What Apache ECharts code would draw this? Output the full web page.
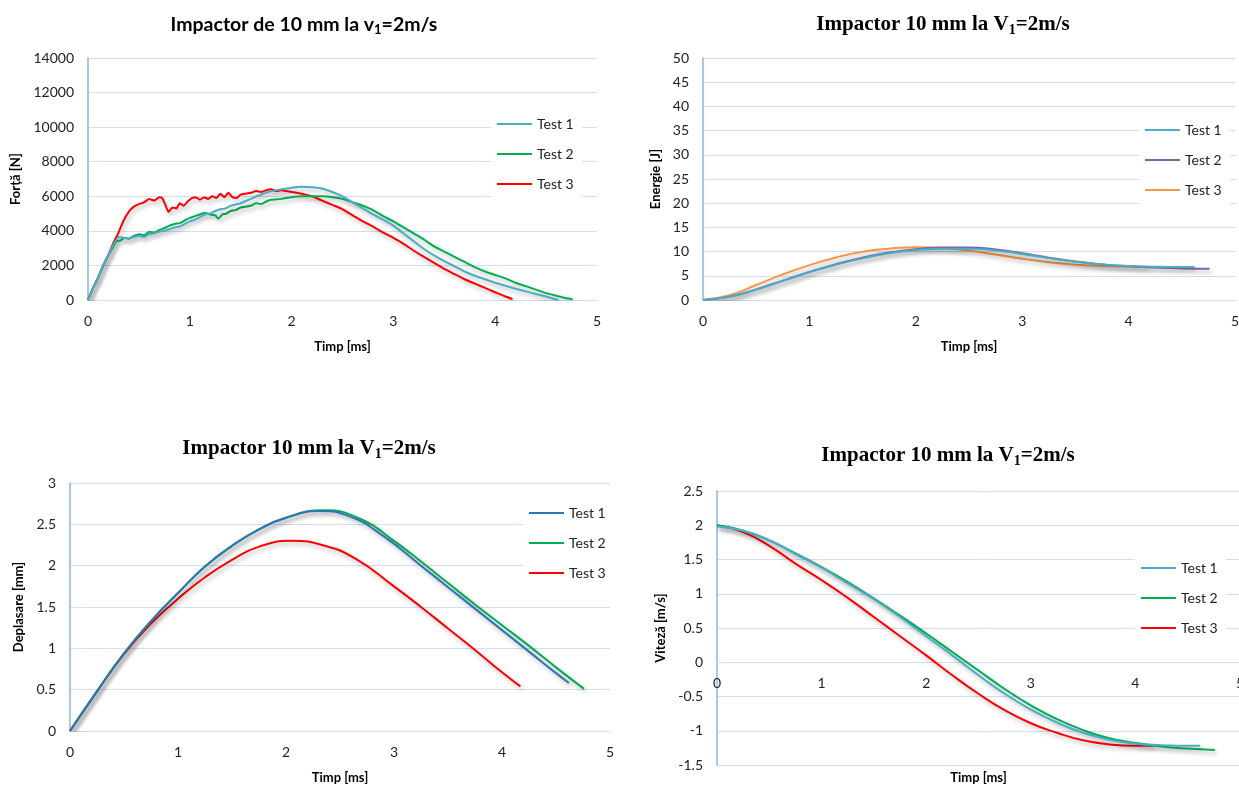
<!DOCTYPE html>
<html>
<head>
<meta charset="utf-8">
<script src="https://cdn.jsdelivr.net/npm/echarts@6/dist/echarts.min.js"></script>
<style>
html,body{margin:0;padding:0;background:#fff;overflow:hidden;}
.c{position:absolute;}
</style>
</head>
<body>
<div id="c1" class="c" style="left:0;top:0;width:620px;height:393px"></div>
<div id="c2" class="c" style="left:620px;top:0;width:619px;height:393px"></div>
<div id="c3" class="c" style="left:0;top:393px;width:620px;height:393px"></div>
<div id="c4" class="c" style="left:620px;top:393px;width:619px;height:393px"></div>
<script>
// ---------- DATA ----------
const seriesNames = ['Test 1', 'Test 2', 'Test 3'];
const xTicks = [0, 1, 2, 3, 4, 5];

// Force [N] vs time [ms]
const forceT1 = [0,0.05,0.1,0.15,0.2,0.25,0.3,0.35,0.4,0.45,0.5,0.55,0.6,0.65,0.7,0.75,0.8,0.85,0.9,0.95,1.0,1.05,1.1,1.15,1.2,1.25,1.3,1.35,1.4,1.5,1.6,1.7,1.8,1.9,2.0,2.1,2.2,2.3,2.4,2.5,2.6,2.7,2.8,2.9,3.0,3.1,3.2,3.3,3.4,3.5,3.6,3.7,3.8,3.9,4.0,4.1,4.2,4.3,4.4,4.5,4.62];
const forceV1 = [0,700,1300,2000,2600,3200,3650,3600,3550,3650,3700,3650,3800,3850,3950,4000,4100,4200,4250,4400,4550,4650,4800,4950,5000,5150,5250,5300,5450,5600,5850,6100,6300,6400,6500,6550,6520,6450,6250,6000,5650,5300,4950,4650,4300,3850,3400,2950,2580,2250,1950,1650,1400,1200,1000,820,650,500,350,200,0];
const forceT2 = [0,0.05,0.1,0.15,0.2,0.25,0.28,0.32,0.36,0.4,0.45,0.5,0.55,0.6,0.65,0.7,0.75,0.8,0.85,0.9,0.95,1.0,1.05,1.1,1.15,1.2,1.25,1.28,1.32,1.36,1.4,1.45,1.5,1.55,1.6,1.65,1.7,1.75,1.8,1.9,2.0,2.1,2.2,2.3,2.4,2.5,2.6,2.7,2.8,2.9,3.0,3.1,3.2,3.3,3.4,3.5,3.6,3.7,3.8,3.9,4.0,4.1,4.2,4.3,4.4,4.5,4.6,4.7,4.76];
const forceV2 = [0,700,1300,2000,2600,3100,3400,3450,3600,3550,3700,3800,3750,3950,3900,4050,4150,4300,4400,4450,4600,4750,4850,4950,5050,4950,4900,4700,4950,5000,5150,5200,5350,5400,5450,5600,5550,5700,5800,5850,5950,6000,6000,6000,5950,5850,5650,5450,5200,4850,4550,4200,3850,3500,3100,2800,2500,2200,1900,1650,1450,1250,1000,800,600,400,250,100,50];
const forceT3 = [0,0.05,0.1,0.15,0.2,0.25,0.3,0.35,0.4,0.45,0.5,0.55,0.6,0.65,0.7,0.73,0.76,0.79,0.83,0.87,0.9,0.94,0.98,1.02,1.06,1.1,1.14,1.18,1.22,1.26,1.3,1.34,1.38,1.42,1.46,1.5,1.55,1.6,1.65,1.7,1.75,1.8,1.85,1.9,1.95,2.0,2.1,2.2,2.3,2.4,2.5,2.6,2.7,2.8,2.9,3.0,3.1,3.2,3.3,3.4,3.5,3.6,3.7,3.8,3.9,4.0,4.1,4.17];
const forceV3 = [0,700,1300,2000,2600,3300,3900,4600,5100,5400,5550,5650,5850,5750,5950,5900,5500,5100,5350,5300,5600,5450,5700,5900,5950,5800,5950,5850,6000,5900,6150,5950,6200,5950,5900,6100,6150,6200,6300,6250,6350,6400,6300,6350,6300,6250,6150,6000,5750,5500,5250,4900,4550,4250,3900,3600,3250,2850,2500,2150,1800,1500,1200,950,700,450,200,50];

// Time grids for the energy and velocity curves
const timeA = [0,0.25,0.5,0.75,1,1.25,1.5,1.75,2,2.25,2.5,2.75,3,3.25,3.5,3.75,4,4.25,4.5,4.62];
const timeB = [0,0.25,0.5,0.75,1,1.25,1.5,1.75,2,2.25,2.5,2.75,3,3.25,3.5,3.75,4,4.25,4.5,4.76];
const timeC = [0,0.25,0.5,0.75,1,1.25,1.5,1.75,2,2.25,2.5,2.75,3,3.25,3.5,3.75,4,4.17];

// Energy [J]
const energy1 = [0,0.65,2.15,3.95,5.75,7.3,8.6,9.65,10.3,10.6,10.6,10.25,9.5,8.65,7.9,7.35,7.0,6.85,6.8,6.8];
const energy2 = [0,0.7,2.2,4.0,5.8,7.4,8.75,9.8,10.5,10.85,10.85,10.45,9.65,8.75,7.95,7.35,6.95,6.7,6.52,6.45];
const energy3 = [0,1.0,3.1,5.3,7.2,8.8,9.95,10.6,10.9,10.75,10.2,9.4,8.5,7.8,7.3,7.0,6.9,6.85];

// Displacement [mm] (time points include each curve's apex)
const dispT1 = [0,0.25,0.5,0.75,1,1.25,1.5,1.75,2.0,2.3,2.6,2.9,3.25,3.5,3.75,4,4.25,4.5,4.62];
const disp1  = [0,0.48,0.94,1.33,1.67,1.99,2.24,2.44,2.58,2.66,2.59,2.36,2.0,1.74,1.48,1.22,0.96,0.70,0.58];
const dispT2 = [0,0.25,0.5,0.75,1,1.25,1.5,1.75,2.0,2.35,2.7,3.0,3.25,3.5,3.75,4,4.25,4.5,4.76];
const disp2  = [0,0.48,0.94,1.33,1.67,1.99,2.24,2.44,2.58,2.67,2.56,2.30,2.05,1.79,1.53,1.28,1.03,0.77,0.51];
const dispT3 = [0,0.25,0.5,0.75,1,1.25,1.5,1.75,2.05,2.35,2.65,3.0,3.25,3.5,3.75,4.0,4.17];
const disp3  = [0,0.48,0.93,1.30,1.60,1.86,2.07,2.23,2.30,2.245,2.08,1.75,1.50,1.24,0.98,0.71,0.54];

// Velocity [m/s]
const vel1 = [1.98,1.92,1.78,1.58,1.38,1.15,0.92,0.66,0.38,0.1,-0.19,-0.46,-0.69,-0.88,-1.03,-1.13,-1.19,-1.21,-1.22,-1.22];
const vel2 = [2.0,1.92,1.78,1.59,1.39,1.17,0.93,0.68,0.42,0.15,-0.12,-0.39,-0.63,-0.83,-0.99,-1.11,-1.18,-1.23,-1.26,-1.28];
const vel3 = [2.0,1.9,1.7,1.44,1.2,0.94,0.66,0.38,0.1,-0.19,-0.46,-0.7,-0.89,-1.03,-1.14,-1.2,-1.22,-1.22];

// ---------- RENDER ----------
const SANS = 'Lato, "Open Sans", sans-serif';
const SERIF = '"Liberation Serif", "Times New Roman", serif';
const GRID_C = '#D0DFF3';
const AXIS_C = '#8EB4E3';

function pairs(t, v) { return t.map((x, i) => [x, v[i]]); }

function titleGraphic(cx, cy, main1, sub, main2, fam, size) {
  const base = { fontFamily: fam, fontWeight: 'bold', fontSize: size, lineHeight: size + 4, fill: '#000', color: '#000' };
  const subS = { fontFamily: fam, fontWeight: 'bold', fontSize: Math.round(size * 0.65), lineHeight: size + 4, verticalAlign: 'bottom', fill: '#000', color: '#000' };
  return {
    type: 'text', x: cx, y: cy, silent: true,
    style: {
      text: '{a|' + main1 + '}{s|' + sub + '}{a|' + main2 + '}',
      rich: { a: base, s: subS },
      align: 'center', verticalAlign: 'middle',
      textAlign: 'center', textVerticalAlign: 'middle'
    }
  };
}

function build(id, o) {
  const chart = echarts.init(document.getElementById(id), null, { renderer: 'canvas' });
  const series = o.series.map((s, i) => ({
    name: seriesNames[i],
    type: 'line',
    data: s.data,
    showSymbol: false,
    smooth: o.smooth,
    z: 3 - i + 2,
    lineStyle: {
      color: s.color, width: 2,
      shadowColor: 'rgba(0,0,0,0.28)', shadowBlur: 4, shadowOffsetX: 2, shadowOffsetY: 3
    },
    itemStyle: { color: s.color }
  }));
  chart.setOption({
    animation: false,
    graphic: [o.title],
    grid: { left: o.grid[0], top: o.grid[1], width: o.grid[2], height: o.grid[3], containLabel: false, outerBoundsMode: 'none' },
    legend: {
      orient: 'vertical', left: o.legend[0], top: o.legend[1],
      icon: 'rect', itemWidth: 35, itemHeight: 2, itemGap: 14,
      backgroundColor: '#fff', padding: [8, 8, 8, 6],
      textStyle: { fontFamily: SANS, fontSize: 14, color: '#222', lineHeight: 16 },
      data: seriesNames
    },
    xAxis: {
      type: 'value', min: xTicks[0], max: xTicks[xTicks.length - 1], interval: 1,
      position: 'bottom', offset: o.xOffset || 0,
      name: 'Timp [ms]', nameLocation: 'middle', nameGap: o.xGap,
      nameTextStyle: { fontFamily: SANS, fontWeight: 'bold', fontSize: 13, color: '#000' },
      axisLine: { show: true, onZero: false, lineStyle: { color: GRID_C, width: 1 } },
      axisTick: { show: false },
      splitLine: { show: false },
      axisLabel: { fontFamily: SANS, fontSize: 14, color: '#222', margin: 14, showMaxLabel: true, showMinLabel: true, hideOverlap: false, formatter: v => String(v) }
    },
    yAxis: {
      type: 'value', min: o.y[0], max: o.y[1], interval: o.y[2],
      name: o.yName, nameLocation: 'middle', nameGap: o.yGap,
      nameTextStyle: { fontFamily: SANS, fontWeight: 'bold', fontSize: 13, color: '#000' },
      axisLine: { show: true, onZero: false, lineStyle: { color: AXIS_C, width: 1.5 } },
      axisTick: { show: false },
      splitLine: { show: true, lineStyle: { color: GRID_C, width: 1 } },
      axisLabel: { fontFamily: SANS, fontSize: 14, color: '#222', margin: 14, formatter: v => String(v) }
    },
    series: series
  });
}

build('c1', {
  title: titleGraphic(304, 25, 'Impactor de 10 mm la v', '1', '=2m/s', SANS, 19.5),
  grid: [88, 58, 509, 242], y: [0, 14000, 2000], yName: 'Forță [N]', yGap: 60, xGap: 40,
  legend: [491, 108], smooth: 0.15,
  series: [
    { data: pairs(forceT1, forceV1), color: '#4BACC6' },
    { data: pairs(forceT2, forceV2), color: '#00B050' },
    { data: pairs(forceT3, forceV3), color: '#FF0000' }
  ]
});

build('c2', {
  title: titleGraphic(323, 25, 'Impactor 10 mm la V', '1', '=2m/s', SERIF, 21),
  grid: [83, 58, 532, 242], y: [0, 50, 5], yName: 'Energie [J]', yGap: 38, xGap: 40,
  legend: [519, 114], smooth: true,
  series: [
    { data: pairs(timeA, energy1), color: '#4BACC6' },
    { data: pairs(timeB, energy2), color: '#8064A2' },
    { data: pairs(timeC, energy3), color: '#F79646' }
  ]
});

build('c3', {
  title: titleGraphic(309, 56, 'Impactor 10 mm la V', '1', '=2m/s', SERIF, 21),
  grid: [70, 90, 540, 248], y: [0, 3, 0.5], yName: 'Deplasare [mm]', yGap: 43, xGap: 40,
  legend: [523, 104], smooth: true,
  series: [
    { data: pairs(dispT1, disp1), color: '#2E75B6' },
    { data: pairs(dispT2, disp2), color: '#00B050' },
    { data: pairs(dispT3, disp3), color: '#FF0000' }
  ]
});

build('c4', {
  title: titleGraphic(328, 63, 'Impactor 10 mm la V', '1', '=2m/s', SERIF, 21),
  grid: [97, 98, 523, 274], y: [-1.5, 2.5, 0.5], yName: 'Viteză [m/s]', yGap: 46, xGap: 109,
  xOffset: -102.75,
  legend: [515, 159], smooth: true,
  series: [
    { data: pairs(timeA, vel1), color: '#4BACC6' },
    { data: pairs(timeB, vel2), color: '#00B050' },
    { data: pairs(timeC, vel3), color: '#FF0000' }
  ]
});
</script>
</body>
</html>
